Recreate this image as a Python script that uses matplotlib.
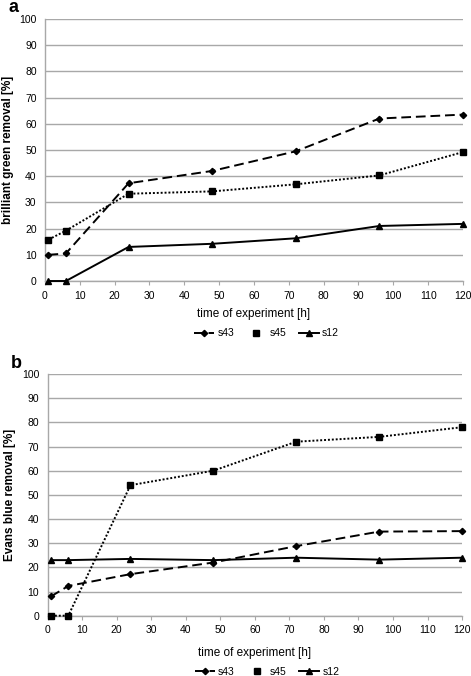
import matplotlib.pyplot as plt
from matplotlib.lines import Line2D

plt.rcParams['font.family'] = ['Liberation Sans', 'DejaVu Sans']

hours = [1, 6, 24, 48, 72, 96, 120]

# panel a - brilliant green
bg_s43 = [10, 10.5, 37.3, 42, 49.5, 62, 63.5]
bg_s45 = [15.8, 19.2, 33.3, 34.2, 36.9, 40.3, 49.2]
bg_s12 = [0, 0, 13, 14.2, 16.3, 21, 21.8]

# panel b - Evans blue
eb_s43 = [8, 12.3, 17.2, 22, 28.8, 34.8, 35]
eb_s45 = [0, 0, 54, 60, 72, 74, 78]
eb_s12 = [23, 23, 23.5, 23, 24, 23.2, 24]

series_names = ['s43', 's45', 's12']
styles = [
    dict(linestyle=(0, (5, 2.5)), marker='D', markersize=3.2),
    dict(linestyle=(0, (1, 1)), marker='s', markersize=5),
    dict(linestyle='-', marker='^', markersize=5),
]

fig = plt.figure(figsize=(4.71, 6.76), dpi=100)
ax_a = fig.add_axes([0.0955, 0.5843, 0.8875, 0.3877])
ax_b = fig.add_axes([0.101, 0.0892, 0.880, 0.3575])


def draw(ax, data, ylabel, letter, legend_y, xpad):
    for vals, st in zip(data, styles):
        ax.plot(hours, vals, color='black', linewidth=1.4, clip_on=False, zorder=3, **st)
    ax.set_xlim(0, 120)
    ax.set_ylim(0, 100)
    ax.set_xticks(range(0, 121, 10))
    ax.set_yticks(range(0, 101, 10))
    ax.grid(axis='y', color='#a8a8a8', linewidth=1)
    ax.set_axisbelow(True)
    for s in ['top', 'right']:
        ax.spines[s].set_visible(False)
    for s in ['left', 'bottom']:
        ax.spines[s].set_color('#a8a8a8')
        ax.spines[s].set_linewidth(1)
    ax.tick_params(axis='y', length=0, labelsize=7.5, pad=6)
    ax.tick_params(axis='x', length=3, color='#a8a8a8', labelsize=7.5, pad=4)
    ax.set_xlabel('time of experiment [h]', fontsize=8.5, labelpad=xpad)
    ax.set_ylabel(ylabel, fontsize=8.5, fontweight='bold', labelpad=4)
    ax.text(-0.075, 1.01, letter, transform=ax.transAxes, fontsize=13,
            fontweight='bold', va='bottom', ha='center')
    handles = [
        Line2D([], [], color='black', linewidth=1.4, **styles[0]),
        Line2D([], [], color='black', linestyle='none', marker='s', markersize=5),
        Line2D([], [], color='black', linewidth=1.4, **styles[2]),
    ]
    ax.legend(handles, series_names, loc='center', bbox_to_anchor=(0.53, legend_y),
              ncol=3, frameon=False, fontsize=7.5, handlelength=1.9,
              columnspacing=1.2, handletextpad=0.3)


draw(ax_a, [bg_s43, bg_s45, bg_s12], 'brilliant green removal [%]', 'a', -0.2, 5)
draw(ax_b, [eb_s43, eb_s45, eb_s12], 'Evans blue removal [%]', 'b', -0.232, 8)

fig.savefig('out.png', dpi=100)
